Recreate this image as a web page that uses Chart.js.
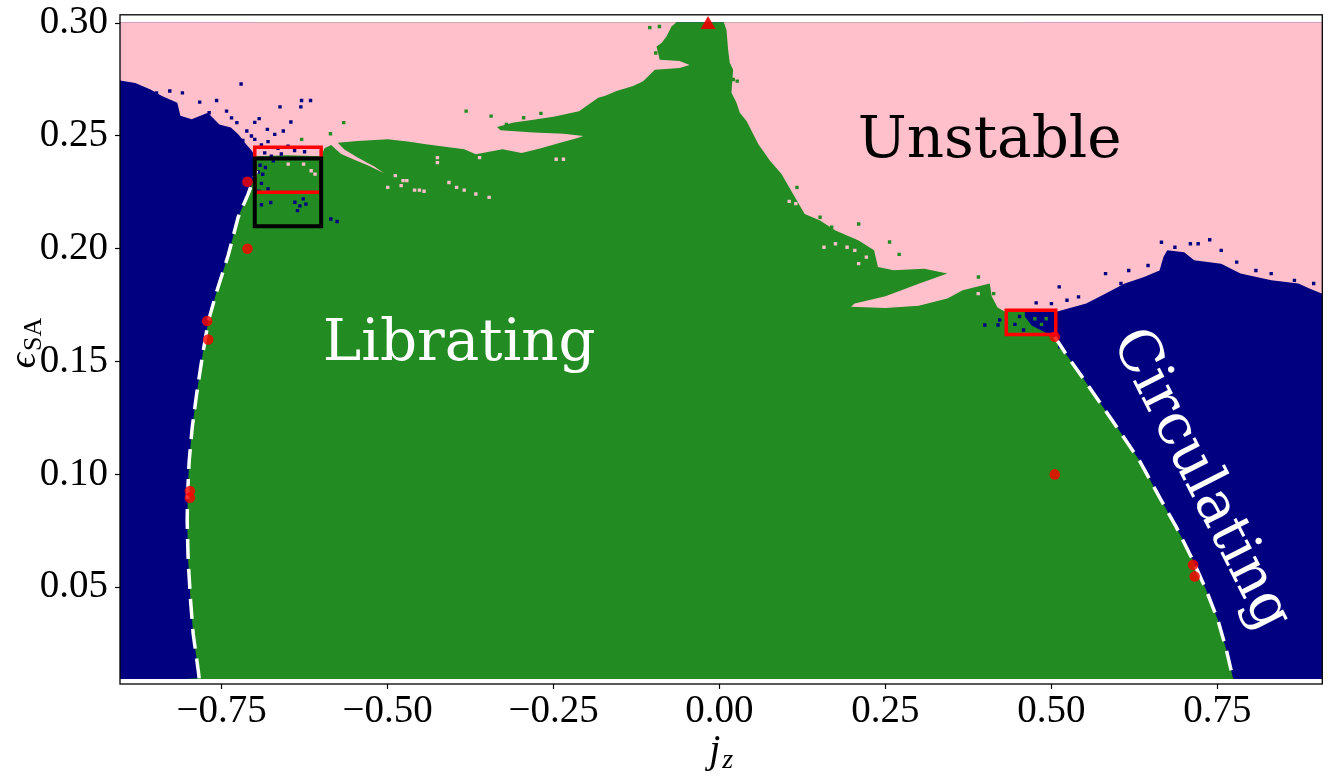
<!DOCTYPE html>
<html>
<head>
<meta charset="utf-8">
<script src="https://cdn.jsdelivr.net/npm/chart.js@4.4.0/dist/chart.umd.min.js"></script>
<style>
  html, body { margin: 0; padding: 0; background: #fff; }
  canvas { display: block; }
</style>
</head>
<body>
<canvas id="regimeChart" width="1331" height="778"></canvas>
<script>
// axis limits and extent of the computed grid
const xLimits = [-0.903, 0.908];
const yLimits = [0.0071, 0.3037];
const gridX = [-0.903, 0.908];
const gridTop = 0.3004;
const gridBottom = 0.0093;

const xTicks = [-0.75, -0.5, -0.25, 0, 0.25, 0.5, 0.75];
const yTicks = [0.05, 0.10, 0.15, 0.20, 0.25, 0.30];

// separatrix, left branch (bottom -> top)
const leftSepX = [-0.7837, -0.7852, -0.7928, -0.7967, -0.8003, -0.8018, -0.8012, -0.7988, -0.7943,
  -0.7877, -0.7786, -0.7702, -0.7575, -0.7400, -0.7250, -0.7099, -0.6973];
const leftSepY = [0.0096, 0.0132, 0.0294, 0.0441, 0.0618, 0.0794, 0.0912, 0.1059, 0.1206,
  0.1353, 0.1530, 0.1676, 0.1809, 0.1971, 0.2140, 0.2243, 0.2346];

// separatrix, right branch (top -> bottom)
const rightSepX = [0.505, 0.5226, 0.5476, 0.5753, 0.6029, 0.6330, 0.6631, 0.6883, 0.7133, 0.7334, 0.7509, 0.7636, 0.7735];
const rightSepY = [0.161, 0.1530, 0.1426, 0.1309, 0.1191, 0.1059, 0.0897, 0.0765, 0.0618, 0.0485, 0.0353, 0.0221, 0.0096];

// top edge of the librating region between the two branches
const libTopX = [-0.700, -0.700, 0.460, 0.460, 0.470, 0.490];
const libTopY = [0.2420, 0.3004, 0.3004, 0.1700, 0.1660, 0.1630];

// lower edge of the unstable region, left -> right
const pinkEdgeX = [-0.903, -0.880, -0.857, -0.8398, -0.8167, -0.812, -0.795, -0.782, -0.7706, -0.7533,
  -0.736, -0.7245, -0.713, -0.7044, -0.700, -0.650, -0.600, -0.595, -0.585,
  -0.570, -0.550, -0.530, -0.505, -0.520, -0.545, -0.565, -0.575,
  -0.545, -0.4996, -0.470, -0.442, -0.4075, -0.3845, -0.367, -0.3268, -0.298, -0.269, -0.240, -0.215, -0.205,
  -0.235, -0.280, -0.330, -0.335, -0.310, -0.280, -0.250, -0.2116, -0.1827, -0.173, -0.155, -0.130, -0.115, -0.0974,
  -0.060, -0.045, -0.060, -0.090, -0.0949, -0.0873, -0.0798, -0.0723, -0.0648, 0.0065,
  0.0105, 0.013, 0.0155, 0.0205, 0.018, 0.0256, 0.0306, 0.0407, 0.0586, 0.0761, 0.0934, 0.1108, 0.1283,
  0.1515, 0.1747, 0.2096, 0.2328, 0.2387, 0.2619, 0.3084, 0.3432, 0.300, 0.250, 0.2036, 0.198,
  0.250, 0.300, 0.3432, 0.3664, 0.4071, 0.410, 0.4188, 0.4304, 0.460, 0.506,
  0.5524, 0.581, 0.6104, 0.6396, 0.6628, 0.6687, 0.6744, 0.700, 0.715, 0.7557, 0.7848, 0.8313, 0.872, 0.8895, 0.908];
const pinkEdgeY = [0.2746, 0.2735, 0.2706, 0.2677, 0.2647, 0.2590, 0.2574, 0.2590, 0.2603, 0.2551,
  0.2537, 0.2507, 0.2463, 0.2434, 0.2410, 0.2415, 0.2410, 0.2445, 0.2460,
  0.2420, 0.2395, 0.2370, 0.2335, 0.2365, 0.2405, 0.2440, 0.2470,
  0.2478, 0.2485, 0.2475, 0.2463, 0.2450, 0.2441, 0.2419, 0.2441, 0.2425, 0.2445, 0.2470, 0.2490, 0.2500,
  0.2510, 0.2515, 0.2525, 0.2540, 0.2560, 0.2572, 0.2585, 0.2610, 0.2669, 0.2677, 0.2699, 0.2721, 0.2743, 0.2794,
  0.2801, 0.2815, 0.2832, 0.2838, 0.2897, 0.2912, 0.2941, 0.2985, 0.3004, 0.3004,
  0.2970, 0.2882, 0.2824, 0.2794, 0.2691, 0.2647, 0.2603, 0.2566, 0.2463, 0.2390, 0.2331, 0.2243, 0.2154,
  0.2125, 0.2081, 0.2037, 0.1993, 0.1919, 0.1905, 0.1912, 0.1890, 0.1845, 0.1790, 0.1757, 0.1743,
  0.1738, 0.1748, 0.1780, 0.1816, 0.1846, 0.1790, 0.1740, 0.1721, 0.1720, 0.1720,
  0.1757, 0.1801, 0.1846, 0.1875, 0.1904, 0.1963, 0.1993, 0.1985, 0.1949, 0.1934, 0.1890, 0.1860, 0.1846, 0.1823, 0.1801];

// isolated grid cells of another class
const navyFlecks = [[-0.858, 0.2691], [-0.848, 0.2691], [-0.828, 0.2699], [-0.809, 0.2691], [-0.783, 0.2650],
  [-0.7575, 0.2657], [-0.7687, 0.2603], [-0.7425, 0.2610], [-0.727, 0.2559], [-0.7206, 0.2730], [-0.6934, 0.2577],
  [-0.681, 0.2529], [-0.670, 0.2507], [-0.657, 0.2522], [-0.712, 0.2522], [-0.6456, 0.2562], [-0.662, 0.2629],
  [-0.6306, 0.2629], [-0.6295, 0.2657], [-0.616, 0.2657], [-0.700, 0.2485], [-0.690, 0.2460], [-0.680, 0.2475],
  [-0.665, 0.2445], [-0.650, 0.2455], [-0.640, 0.2435], [-0.685, 0.2425], [-0.675, 0.2410], [-0.660, 0.2420],
  [-0.625, 0.2430], [-0.692, 0.2370], [-0.688, 0.2330], [-0.690, 0.2290], [-0.680, 0.2265], [-0.690, 0.2195],
  [-0.676, 0.2205], [-0.6396, 0.2206], [-0.627, 0.2221], [-0.6356, 0.2169], [-0.623, 0.2198], [-0.632, 0.2190],
  [-0.5854, 0.2132], [-0.576, 0.2121], [-0.695, 0.2340], [-0.684, 0.2360], [-0.694, 0.2255], [-0.672, 0.2390],
  [-0.705, 0.2500], [-0.718, 0.2480], [-0.735, 0.2580], [-0.700, 0.2560],
  [0.5117, 0.1831], [0.477, 0.1760], [0.500, 0.1757], [0.5234, 0.1772], [0.5408, 0.1787], [0.5815, 0.1890],
  [0.6164, 0.1904], [0.6455, 0.1926], [0.6047, 0.1846], [0.6657, 0.2029], [0.686, 0.2007], [0.7093, 0.2022],
  [0.721, 0.2022], [0.7384, 0.2040], [0.7557, 0.1993], [0.779, 0.1941], [0.808, 0.1904], [0.831, 0.1890],
  [0.866, 0.1860], [0.895, 0.1846], [0.3996, 0.1662], [0.4196, 0.1662], [0.422, 0.1684], [0.445, 0.1665],
  [0.452, 0.1700], [0.458, 0.1640], [0.5125, 0.1566]];
const greenFlecks = [[-0.3816, 0.2610], [-0.344, 0.2588], [-0.295, 0.2581], [-0.269, 0.2600], [-0.2144, 0.2581],
  [-0.174, 0.2566], [-0.1568, 0.2551], [-0.321, 0.2551], [-0.292, 0.2540], [-0.2114, 0.2537], [-0.566, 0.2559],
  [-0.586, 0.2510], [-0.6294, 0.2485], [-0.096, 0.2868], [-0.0905, 0.2985], [-0.105, 0.2980], [0.0208, 0.2750],
  [0.0267, 0.2743], [0.1167, 0.2272], [0.1515, 0.2140], [0.169, 0.2096], [0.2096, 0.2110], [0.2562, 0.2030],
  [0.2706, 0.1975], [0.390, 0.1875], [0.413, 0.1801], [0.475, 0.1690], [0.485, 0.1665], [0.492, 0.1690]];
const pinkFlecks = [[-0.4997, 0.2272], [-0.4795, 0.2280], [-0.4593, 0.2260], [-0.452, 0.2260], [-0.445, 0.2255],
  [-0.4767, 0.2302], [-0.4075, 0.2294], [-0.396, 0.2272], [-0.3845, 0.2260], [-0.367, 0.2243], [-0.347, 0.2228],
  [-0.4249, 0.2382], [-0.4249, 0.2404], [-0.3614, 0.2404], [-0.246, 0.2397], [-0.235, 0.2397], [-0.4883, 0.2324],
  [-0.471, 0.2302], [-0.6496, 0.2375], [-0.6265, 0.2375], [-0.615, 0.2346], [-0.6092, 0.2331],
  [0.1747, 0.2022], [0.1922, 0.2007], [0.2038, 0.1993], [0.2212, 0.1963], [0.2096, 0.1934], [0.1574, 0.2007],
  [0.3897, 0.1801], [0.3782, 0.1846], [0.105, 0.2210], [0.115, 0.2200]];

// test orbits
const orbitPoints = [[-0.711, 0.2297], [-0.711, 0.2000], [-0.7717, 0.1680], [-0.7702, 0.1598], [-0.7977, 0.0926],
  [-0.7977, 0.0897], [0.505, 0.1000], [0.505, 0.1610], [0.7133, 0.0599], [0.7158, 0.0548]];
const fixedPoint = [[-0.0172, 0.2993]];

// zoom boxes
const blackBoxX = [-0.70, -0.60, -0.60, -0.70, -0.70];
const blackBoxY = [0.21, 0.21, 0.24, 0.24, 0.21];
const redBoxAX = [-0.70, -0.60, -0.60, -0.70, -0.70];
const redBoxAY = [0.225, 0.225, 0.245, 0.245, 0.225];
const redBoxBX = [0.432, 0.5065, 0.5065, 0.432, 0.432];
const redBoxBY = [0.162, 0.162, 0.1728, 0.1728, 0.162];

const NAVY = '#000080';
const GREEN = '#228b22';
const PINK = '#ffc0cb';

const toPts = (xs, ys) => xs.map((x, i) => ({x: x, y: ys[i]}));
const pairPts = arr => arr.map(p => ({x: p[0], y: p[1]}));
const fmtTick = v => (v < 0 ? '\u2212' : '') + Math.abs(v).toFixed(2);

const librPolygon = [{x: -0.806, y: gridBottom}]
  .concat(toPts(leftSepX, leftSepY), toPts(libTopX, libTopY), toPts(rightSepX, rightSepY),
    [{x: 0.776, y: gridBottom}]);

function areaSet(data, color, fillTo, order) {
  return { type: 'line', data: data, fill: {value: fillTo}, backgroundColor: color,
    borderColor: 'transparent', borderWidth: 0, pointRadius: 0, tension: 0, order: order };
}
function fleckSet(pts, color, order) {
  return { type: 'scatter', data: pairPts(pts), pointStyle: 'rect', pointRadius: 2.4,
    backgroundColor: color, borderWidth: 0, order: order };
}
function lineSet(data, color, width, dash, cap, order) {
  return { type: 'line', data: data, fill: false, borderColor: color, borderWidth: width,
    borderDash: dash, pointRadius: 0, tension: 0, borderCapStyle: cap,
    borderJoinStyle: 'miter', order: order };
}

const regionLabels = [
  {text: 'Unstable', x: 0.407, y: 0.2405, rot: 0, color: '#000', baseline: 'alphabetic'},
  {text: 'Librating', x: -0.392, y: 0.1505, rot: 0, color: '#fff', baseline: 'alphabetic'},
  {text: 'Circulating', x: 0.7240, y: 0.0975, rot: 63, color: '#fff', baseline: 'middle'}
];

const decorPlugin = {
  id: 'decor',
  afterDatasetsDraw(chart) {
    const {ctx, scales} = chart;
    regionLabels.forEach(lab => {
      ctx.save();
      ctx.translate(scales.x.getPixelForValue(lab.x), scales.y.getPixelForValue(lab.y));
      ctx.rotate(lab.rot * Math.PI / 180);
      ctx.font = '58px "DejaVu Serif"';
      ctx.fillStyle = lab.color;
      ctx.textAlign = 'center';
      ctx.textBaseline = lab.baseline;
      ctx.fillText(lab.text, 0, 0);
      ctx.restore();
    });
  },
  afterDraw(chart) {
    const {ctx, chartArea} = chart;
    ctx.save();
    ctx.strokeStyle = '#000';
    ctx.lineWidth = 1.3;
    ctx.strokeRect(chartArea.left, chartArea.top, chartArea.right - chartArea.left, chartArea.bottom - chartArea.top);

    // x title: j_z
    ctx.fillStyle = '#000';
    ctx.textBaseline = 'alphabetic';
    ctx.textAlign = 'left';
    ctx.font = 'italic 40px "Liberation Serif"';
    const jw = ctx.measureText('j').width;
    ctx.font = 'italic 28px "Liberation Serif"';
    const zw = ctx.measureText('z').width;
    let sx = (chartArea.left + chartArea.right) / 2 - (jw + zw + 2) / 2;
    ctx.font = 'italic 40px "Liberation Serif"';
    ctx.fillText('j', sx, 762);
    ctx.font = 'italic 28px "Liberation Serif"';
    ctx.fillText('z', sx + jw + 2, 768);

    // y title: epsilon_SA
    ctx.translate(35, 343);
    ctx.rotate(-Math.PI / 2);
    ctx.font = 'italic 38px "Liberation Serif"';
    const ew = ctx.measureText('\u03f5').width;
    ctx.font = '26px "Liberation Serif"';
    const sw = ctx.measureText('SA').width;
    const ux = -(ew + sw + 2) / 2;
    ctx.font = 'italic 38px "Liberation Serif"';
    ctx.fillText('\u03f5', ux, 0);
    ctx.font = '26px "Liberation Serif"';
    ctx.fillText('SA', ux + ew + 2, 6);
    ctx.restore();
  }
};

new Chart(document.getElementById('regimeChart'), {
  type: 'line',
  data: {
    datasets: [
      areaSet(toPts(gridX, [gridTop, gridTop]), NAVY, gridBottom, 20),
      areaSet(librPolygon, GREEN, gridBottom, 19),
      areaSet(toPts(pinkEdgeX, pinkEdgeY), PINK, gridTop, 18),
      fleckSet(greenFlecks, GREEN, 17),
      fleckSet(pinkFlecks, PINK, 16),
      fleckSet(navyFlecks, NAVY, 15),
      lineSet(toPts(leftSepX, leftSepY), '#fff', 3.5, [20, 10], 'butt', 10),
      lineSet(toPts(rightSepX, rightSepY), '#fff', 3.5, [20, 10], 'butt', 10),
      lineSet(toPts(redBoxAX, redBoxAY), '#ff0000', 3.5, [], 'square', 7),
      lineSet(toPts(redBoxBX, redBoxBY), '#ff0000', 3.5, [], 'square', 7),
      lineSet(toPts(blackBoxX, blackBoxY), '#000', 4, [], 'square', 6),
      { type: 'scatter', data: pairPts(orbitPoints), pointStyle: 'circle', pointRadius: 5.3,
        backgroundColor: 'rgba(255,0,0,0.8)', borderWidth: 0, order: 3 },
      { type: 'scatter', data: pairPts(fixedPoint), pointStyle: 'triangle', pointRadius: 8.7,
        backgroundColor: 'rgba(235,0,0,0.9)', borderWidth: 0, order: 2 }
    ]
  },
  options: {
    responsive: false,
    animation: false,
    events: [],
    layout: { padding: { top: 12, right: 8, left: 0, bottom: 0 } },
    plugins: { legend: { display: false }, tooltip: { enabled: false } },
    scales: {
      x: {
        type: 'linear',
        min: xLimits[0],
        max: xLimits[1],
        afterBuildTicks: s => { s.ticks = xTicks.map(v => ({value: v})); },
        afterFit: s => { s.height = 94; },
        grid: { drawOnChartArea: false, drawTicks: true, tickLength: 5, color: '#000', tickWidth: 1.2 },
        border: { display: false },
        ticks: {
          callback: v => fmtTick(v),
          color: '#000',
          padding: 3,
          maxRotation: 0,
          font: { family: '"Liberation Serif"', size: 39, lineHeight: 1 }
        }
      },
      y: {
        type: 'linear',
        min: yLimits[0],
        max: yLimits[1],
        afterBuildTicks: s => { s.ticks = yTicks.map(v => ({value: v})); },
        afterFit: s => { s.width = 120; },
        grid: { drawOnChartArea: false, drawTicks: true, tickLength: 5, color: '#000', tickWidth: 1.2 },
        border: { display: false },
        ticks: {
          callback: v => fmtTick(v),
          color: '#000',
          padding: 7,
          font: { family: '"Liberation Serif"', size: 39, lineHeight: 0.4 }
        }
      }
    }
  },
  plugins: [decorPlugin]
});
</script>
</body>
</html>
